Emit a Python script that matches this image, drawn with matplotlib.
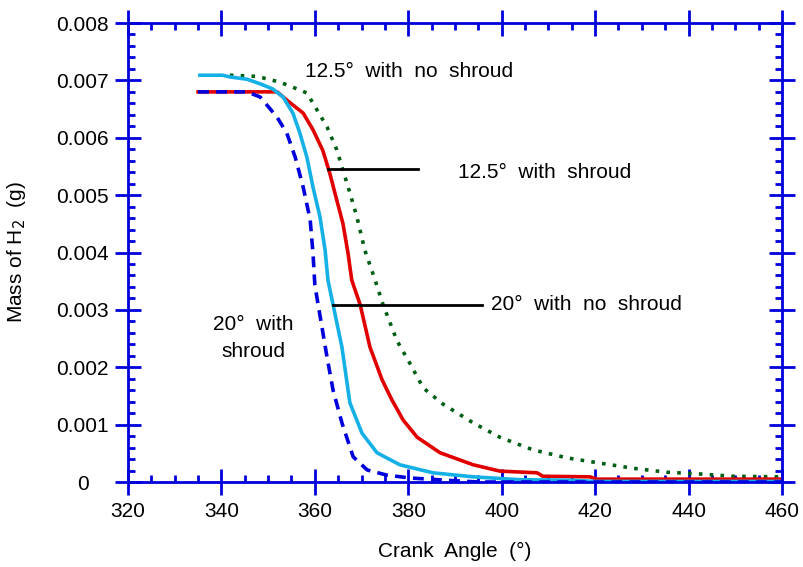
import matplotlib
matplotlib.use("Agg")
import matplotlib.pyplot as plt
from matplotlib.ticker import MultipleLocator, FuncFormatter

plt.rcParams['font.family'] = ['Liberation Sans', 'DejaVu Sans']

# 20 deg with shroud (blue dashed)
ang_20s = [335.0, 345.5, 348.3, 351.9, 354.0, 355.8, 357.5, 359.0, 359.6, 360.0,
           362.6, 363.9, 365.8, 368.2, 371.2, 375.4, 380.4, 388.3, 395.0, 460.0]
m_20s = [0.0068, 0.0068, 0.00671, 0.00636, 0.00608, 0.00566, 0.00514, 0.00457, 0.00399, 0.00343,
         0.00218, 0.00160, 0.00103, 0.00044, 0.00021, 0.00012, 0.00007, 0.00003, 0.0, 0.0]

# 20 deg with no shroud (cyan solid)
ang_20n = [335.4, 340.3, 341.8, 345.5, 348.3, 351.0, 353.2, 355.3, 356.8, 358.3, 359.6, 361.1,
           362.2, 362.8, 363.9, 365.8, 367.5, 370.1, 373.3, 378.2, 385.3, 393.9, 403.9, 415.1, 420.0, 460.0]
m_20n = [0.00709, 0.00709, 0.00706, 0.00702, 0.00694, 0.00685, 0.00671, 0.00643, 0.00608, 0.00566, 0.00514, 0.00462,
         0.00404, 0.00352, 0.00309, 0.00235, 0.00138, 0.00085, 0.00051, 0.00030, 0.00016, 0.00009, 0.00004, 0.00003, 0.00001, 0.00001]

# 12.5 deg with shroud (red solid)
ang_12s = [335.0, 351.9, 354.7, 357.5, 359.6, 361.7, 363.2, 364.7, 366.0, 367.1, 367.9, 369.7,
           371.8, 374.4, 376.5, 378.9, 381.9, 386.8, 393.9, 399.6, 407.6, 408.8, 418.9, 420.4, 460.0]
m_12s = [0.0068, 0.0068, 0.00661, 0.00643, 0.00614, 0.00578, 0.00538, 0.00491, 0.00451, 0.00399, 0.00352, 0.00309,
         0.00235, 0.00178, 0.00143, 0.00108, 0.00078, 0.00051, 0.00030, 0.00019, 0.00016, 0.00010, 0.00009, 0.00005, 0.00005]

# 12.5 deg with no shroud (green dotted)
ang_12n = [341.8, 347.6, 352.5, 355.3, 358.3, 360.5, 362.6, 364.7, 366.0, 367.5, 369.0, 370.7,
           372.9, 374.6, 377.6, 380.4, 383.2, 387.4, 393.9, 399.6, 406.7, 414.0, 421.0, 428.1,
           435.4, 442.5, 449.5, 459.6]
m_12n = [0.00709, 0.00707, 0.00697, 0.00688, 0.00678, 0.00648, 0.00619, 0.00579, 0.00544, 0.00504, 0.00462, 0.00404,
         0.00352, 0.00309, 0.00246, 0.00206, 0.00164, 0.00136, 0.00103, 0.00078, 0.00056, 0.00042, 0.00033, 0.00024,
         0.00017, 0.00014, 0.00010, 0.00009]

axis_blue = '#0000dd'

fig = plt.figure(figsize=(8.04, 5.67), dpi=100)
ax = fig.add_axes([0.1592, 0.1499, 0.8134, 0.8095])

ax.plot(ang_12n, m_12n, color='#005f14', lw=2.6, linestyle=(0, (1, 2)))
ax.plot(ang_12s, m_12s, color='#e00000', lw=2.6)
ax.plot(ang_20n, m_20n, color='#14b0e6', lw=2.6)
ax.plot(ang_20s, m_20s, color=axis_blue, lw=2.6, linestyle=(0, (3, 2)))

# pointer lines
ax.plot([362.8, 382.1], [0.00546, 0.00546], color='black', lw=2)
ax.plot([363.9, 395.8], [0.00309, 0.00309], color='black', lw=2)

fs = 15
ax.text(357.9, 0.00715, '12.5°  with  no  shroud', fontsize=fs, va='center', ha='left')
ax.text(390.6, 0.00540, '12.5°  with  shroud', fontsize=fs, va='center', ha='left')
ax.text(397.7, 0.00309, '20°  with  no  shroud', fontsize=fs, va='center', ha='left')
ax.text(346.8, 0.00251, '20°  with\nshroud', fontsize=fs, va='center', ha='center',
        linespacing=1.5)

ax.set_xlim(320, 460)
ax.set_ylim(0, 0.008)
ax.xaxis.set_major_locator(MultipleLocator(20))
ax.xaxis.set_minor_locator(MultipleLocator(5))
ax.yaxis.set_major_locator(MultipleLocator(0.001))
ax.yaxis.set_minor_locator(MultipleLocator(0.0002))
ax.yaxis.set_major_formatter(FuncFormatter(lambda v, p: '0' if abs(v) < 1e-12 else f'{v:.3f}'))

for s in ax.spines.values():
    s.set_color(axis_blue)
    s.set_linewidth(2)
ax.tick_params(which='major', direction='inout', length=19, width=2, color=axis_blue,
               top=True, right=True, labelsize=fs)
ax.tick_params(which='minor', direction='in', length=5, width=2, color=axis_blue,
               top=True, right=True)
ax.tick_params(axis='x', which='major', pad=5)
ax.tick_params(axis='y', which='major', pad=23)
for lab in ax.get_yticklabels():
    lab.set_horizontalalignment('center')

ax.set_xlabel('Crank  Angle  (°)', fontsize=fs, va='top')
ax.xaxis.set_label_coords(0.5, -0.13)
ax.set_ylabel('Mass of H$_2$  (g)', fontsize=fs)
ax.yaxis.set_label_coords(-0.153, 0.5)

fig.savefig('out.png', dpi=100)
